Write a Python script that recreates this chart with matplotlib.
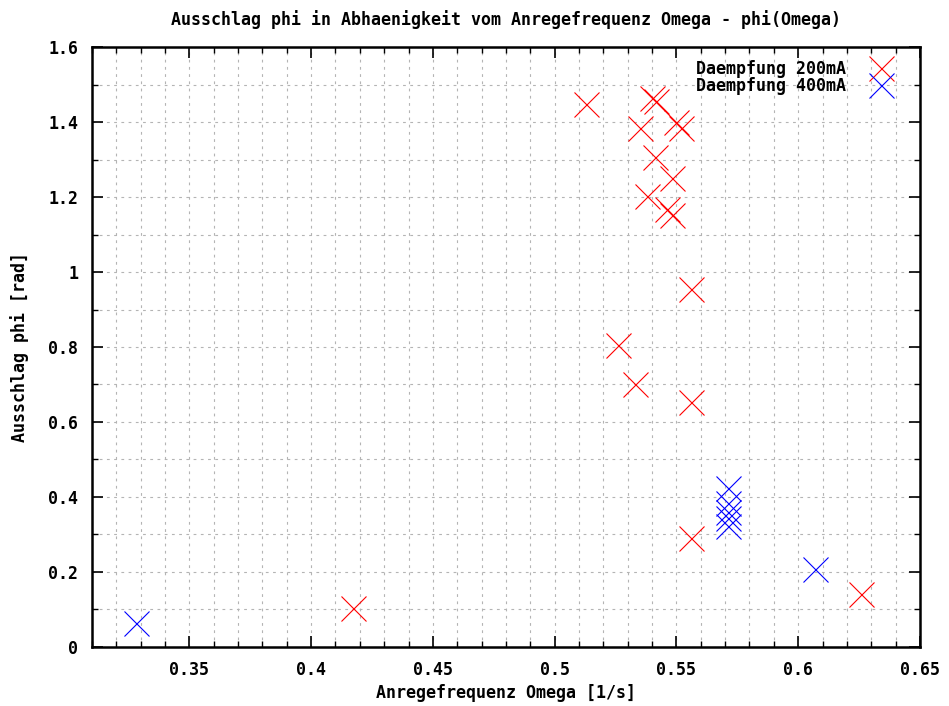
import matplotlib
matplotlib.use("Agg")
import matplotlib.pyplot as plt
from matplotlib.ticker import MultipleLocator, FuncFormatter

# Daempfung 200mA
omega_200 = [0.513, 0.535, 0.540, 0.5415, 0.550, 0.552, 0.541, 0.548, 0.538,
             0.546, 0.548, 0.556, 0.526, 0.533, 0.556, 0.556, 0.417, 0.6256]
phi_200 = [1.448, 1.384, 1.464, 1.456, 1.400, 1.384, 1.307, 1.251, 1.203,
           1.168, 1.152, 0.955, 0.805, 0.701, 0.653, 0.291, 0.104, 0.141]

# Daempfung 400mA
omega_400 = [0.328, 0.6067, 0.571, 0.571, 0.571, 0.571, 0.571]
phi_400 = [0.064, 0.208, 0.425, 0.383, 0.360, 0.344, 0.322]

font = {'family': 'DejaVu Sans Mono', 'weight': 'bold', 'size': 12}

fig = plt.figure(figsize=(9.49, 7.06), dpi=100)
ax = fig.add_axes([0.0969, 0.0836, 0.8725, 0.8498])

ax.plot(omega_200, phi_200, 'x', color='#ff0000', markersize=18, mew=0.8,
        label='Daempfung 200mA')
ax.plot(omega_400, phi_400, 'x', color='#0000ff', markersize=18, mew=0.8,
        label='Daempfung 400mA')

ax.set_xlim(0.31, 0.65)
ax.set_ylim(0, 1.6)
ax.xaxis.set_major_locator(MultipleLocator(0.05))
ax.xaxis.set_minor_locator(MultipleLocator(0.01))
ax.yaxis.set_major_locator(MultipleLocator(0.2))
ax.yaxis.set_minor_locator(MultipleLocator(0.1))
ax.xaxis.set_major_formatter(FuncFormatter(lambda v, p: '%g' % round(v, 3)))
ax.yaxis.set_major_formatter(FuncFormatter(lambda v, p: '%g' % round(v, 3)))

ax.grid(True, which='both', color='#b4b4b4', linestyle=(0, (2.5, 4)), linewidth=0.8)
ax.set_axisbelow(True)
ax.tick_params(which='both', direction='in', top=True, right=True, color='black')
ax.tick_params(which='major', length=8, width=1.2, pad=10)
ax.tick_params(which='minor', length=4, width=1.0)
for s in ax.spines.values():
    s.set_linewidth(1.8)

for lbl in ax.get_xticklabels() + ax.get_yticklabels():
    lbl.set_fontfamily(font['family'])
    lbl.set_fontweight('bold')
    lbl.set_fontsize(12)

ax.set_title('Ausschlag phi in Abhaenigkeit vom Anregefrequenz Omega - phi(Omega)',
             fontdict=font, pad=16)
ax.set_xlabel('Anregefrequenz Omega [1/s]', fontdict=font, labelpad=4)
ax.set_ylabel('Ausschlag phi [rad]', fontdict=font, labelpad=14)

ax.legend(loc='upper right', bbox_to_anchor=(0.987, 1.003), frameon=False,
          markerfirst=False, prop=font, handletextpad=1.3, labelspacing=-0.1,
          handlelength=1.6)

fig.savefig('out.png', dpi=100)
